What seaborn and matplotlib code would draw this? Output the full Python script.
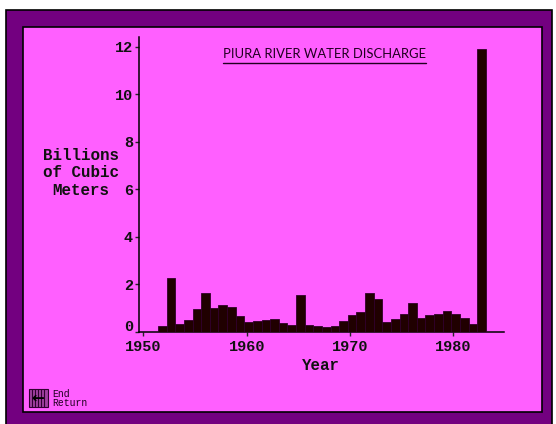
import numpy as np
import pandas as pd
import seaborn as sns
import matplotlib.pyplot as plt
from matplotlib.patches import Rectangle
from matplotlib.transforms import ScaledTranslation

sns.set_style("ticks")
plt.rcParams['font.family'] = ['Liberation Mono', 'DejaVu Sans Mono']

# values, left to right (billions of cubic meters)
discharge = [0.27, 2.28, 0.34, 0.52, 0.95, 1.66, 1.0, 1.14, 1.04, 0.67,
             0.41, 0.48, 0.52, 0.56, 0.38, 0.31, 1.55, 0.31, 0.27, 0.22,
             0.27, 0.45, 0.73, 0.86, 1.62, 1.39, 0.41, 0.56, 0.77, 1.22,
             0.59, 0.70, 0.77, 0.88, 0.77, 0.59, 0.34, 11.89]
bar_index = list(range(len(discharge)))

# the bars are not one per year on the original axis
year_labels = ['1950', '1960', '1970', '1980']
year_ticks = [-2.2, 9.78, 21.75, 33.72]
y_ticks = [0, 2, 4, 6, 8, 10, 12]

MAGENTA = '#ff5fff'
PURPLE = '#730080'
DARK = '#200000'
W, H = 556, 424

df = pd.DataFrame({'bar': bar_index, 'discharge': discharge})

fig = plt.figure(figsize=(W / 100, H / 100), dpi=100, facecolor='white')


def frame(x0, y0, x1, y1, fc, ec='black', lw=1.2, z=-5):
    # rectangle in pixels, measured from the top left
    fig.add_artist(Rectangle((x0 / W, 1 - y1 / H), (x1 - x0) / W, (y1 - y0) / H,
                             transform=fig.transFigure, fc=fc, ec=ec, lw=lw, zorder=z))


frame(6, 10, 552, 430, PURPLE, z=-6)
frame(23, 27, 542, 412, MAGENTA, z=-5)

ax = fig.add_axes([138.5 / W, 1 - 332 / H, (504 - 138.5) / W, (332 - 37) / H])
ax.patch.set_alpha(0)
sns.barplot(data=df, x='bar', y='discharge', color=DARK, width=1, saturation=1,
            edgecolor='#30002a', linewidth=0.6, ax=ax, zorder=3)
ax.set_xlim(-2.76, 39.6)
ax.set_ylim(0, 12.4)
sns.despine(ax=ax)
for side in ['left', 'bottom']:
    ax.spines[side].set_linewidth(1.1)
    ax.spines[side].set_color('black')

ax.set_xticks(year_ticks)
ax.set_xticklabels(year_labels, fontsize=11, fontweight='bold', color='#111111')
ax.set_yticks(y_ticks)
ax.set_yticklabels([str(v) for v in y_ticks], fontsize=11, fontweight='bold', color='#111111')
ax.tick_params(axis='x', length=3, width=1, pad=3)
ax.tick_params(axis='y', length=3, width=1, pad=1)
ax.set_xlabel('Year', fontsize=11.3, fontweight='bold', color='#111111', labelpad=3)
ax.set_ylabel('')

# the 0 label sits a little above its tick
zero = ax.get_yticklabels()[0]
zero.set_transform(zero.get_transform() + ScaledTranslation(0, 4.5 / 72, fig.dpi_scale_trans))

fig.text(81 / W, 1 - 173 / H, 'Billions\nof Cubic\nMeters', ha='center', va='center',
         fontsize=11.4, fontweight='bold', color='#111111', linespacing=1.2)

fig.text(324.5 / W, 1 - 54 / H, 'PIURA RIVER WATER DISCHARGE', ha='center', va='center',
         fontsize=9.4, family=['Lato', 'DejaVu Sans'], color='#200020')
fig.add_artist(plt.Line2D([223 / W, 426 / W], [1 - 62.5 / H] * 2, color='#200020', lw=1,
                          transform=fig.transFigure))

# return button in the corner
frame(29, 389, 48, 407, '#a040a0', ec='#300030', lw=0.8, z=1)
for px in [32, 35, 38, 41, 44]:
    fig.add_artist(plt.Line2D([px / W] * 2, [1 - 389 / H, 1 - 407 / H], color='#300030', lw=0.8,
                              transform=fig.transFigure))
fig.text(38 / W, 1 - 398 / H, '\u2190', ha='center', va='center', fontsize=11, fontweight='bold',
         family=['DejaVu Sans'], color='black')
fig.text(52 / W, 1 - 398.5 / H, 'End\nReturn', ha='left', va='center', fontsize=7, color='#200020',
         family=['Liberation Mono'], linespacing=0.95)

fig.savefig('out.png', dpi=100, facecolor='white')
